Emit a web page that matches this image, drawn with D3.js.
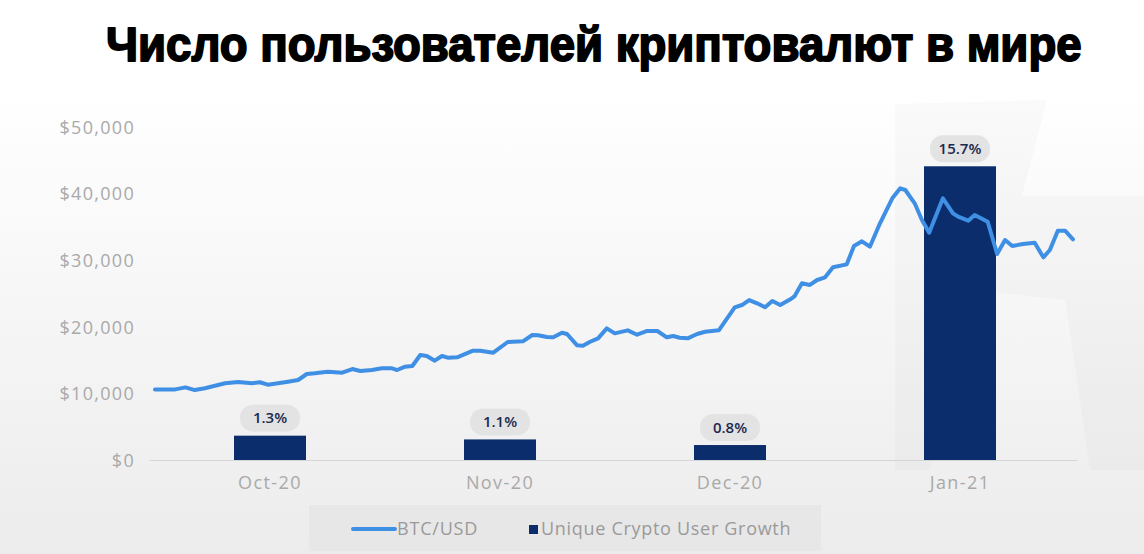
<!DOCTYPE html>
<html>
<head>
<meta charset="utf-8">
<script src="https://cdn.jsdelivr.net/npm/d3@7"></script>
<style>
  html, body { margin: 0; padding: 0; background: #fff; }
  svg { display: block; }
</style>
</head>
<body>
<svg id="chart" width="1144" height="554"></svg>
<script>
const months = ['Oct-20', 'Nov-20', 'Dec-20', 'Jan-21'];
const userGrowth = [1.3, 1.1, 0.8, 15.7];
const priceTicks = [0, 10000, 20000, 30000, 40000, 50000];

// BTC/USD, days since 27 Sep 2020
const btcDay = [
  0, 2.8, 4.2, 5.5, 6.9, 9.7, 11.5, 13.4, 14.5, 15.6, 17.0, 18.4, 19.8, 21.0, 22.1,
  23.9, 25.9, 27.3, 28.4, 30.0, 31.4, 32.8, 33.5, 34.6, 35.6, 36.7, 37.6, 38.7, 39.7,
  40.5, 41.8, 44.0, 45.0, 46.8, 48.8, 50.9, 52.2, 53.0, 54.2, 55.1, 56.3, 57.0, 58.4,
  59.2, 60.2, 61.3, 62.5, 63.6, 65.4, 66.7, 68.1, 69.5, 70.8, 71.7, 72.6, 73.7, 75.0,
  76.1, 78.0, 80.2, 81.2, 82.2, 83.3, 84.4, 85.4, 86.5, 87.9, 88.5, 89.5, 90.6, 91.6,
  92.7, 93.8, 95.7, 96.7, 97.8, 98.9, 100.3, 102.0, 103.1, 103.8, 105.1, 106.1, 107.1,
  109.0, 110.4, 111.1, 112.5, 113.4, 115.2, 116.5, 117.6, 118.6, 120.1, 121.7, 122.9,
  123.8, 124.9, 125.9, 127.0
];
const btcPrice = [
  10600, 10600, 10900, 10500, 10770, 11520, 11710, 11520, 11670, 11310, 11520, 11760, 12010, 12910, 13020,
  13260, 13110, 13660, 13360, 13510, 13770, 13770, 13510, 14010, 14110, 15770, 15620, 14910, 15620,
  15360, 15420, 16410, 16410, 16110, 17720, 17820, 18770, 18720, 18470, 18420, 19110, 18920, 17220,
  17170, 17760, 18270, 19770, 19020, 19470, 18810, 19370, 19370, 18420, 18620, 18360, 18270, 18920,
  19260, 19470, 22930, 23270, 24020, 23530, 22930, 23870, 23270, 24130, 24620, 26530, 26280, 27030,
  27430, 28930, 29380, 32130, 32840, 32030, 35540, 39290, 40800, 40540, 38540, 36040, 34130,
  39290, 37040, 36530, 35930, 36790, 35780, 30930, 33030, 32130, 32430, 32630, 30430,
  31530, 34430, 34430, 33140
];

const W = 1144, H = 554;
const plot = { left: 155, right: 1075, top: 127, bottom: 460 };
const labelFont = '"Open Sans", sans-serif';

const svg = d3.select('#chart');
const defs = svg.append('defs');

const grad = defs.append('linearGradient')
  .attr('id', 'bg').attr('x1', 0).attr('y1', 0).attr('x2', 0).attr('y2', 1);
grad.append('stop').attr('offset', '0%').attr('stop-color', '#ffffff');
grad.append('stop').attr('offset', '100%').attr('stop-color', '#ececec');

svg.append('rect').attr('width', W).attr('height', H).attr('fill', '#fff');
svg.append('rect')
  .attr('x', 0).attr('y', 92).attr('width', W).attr('height', H - 92)
  .attr('fill', 'url(#bg)');

// faint watermark shape behind the right side
svg.append('path')
  .attr('d', 'M895,104 L1047,100 L1022,196 L1144,196 L1144,470 L1090,470 L1065,300 L970,290 L930,470 L895,470 Z')
  .attr('fill', '#000').attr('opacity', 0.018);

// title, squeezed horizontally to the reference width
const title = svg.append('text')
  .attr('font-family', '"Liberation Sans", Arial, sans-serif')
  .attr('font-weight', 'bold').attr('font-size', 47)
  .attr('fill', '#000').attr('stroke', '#000').attr('stroke-width', 1.8)
  .attr('stroke-linejoin', 'round')
  .text('Число пользователей криптовалют в мире');
const titleWidth = title.node().getComputedTextLength();
title.attr('transform', `translate(106,61) scale(${976 / titleWidth},1.02)`);

const y = d3.scaleLinear().domain([0, 50000]).range([plot.bottom, plot.top]);
const yPct = d3.scaleLinear().domain([0, 17.8]).range([plot.bottom, plot.top]);
const xBand = d3.scaleBand().domain(months).range([plot.left, plot.right])
  .paddingInner(0.687).paddingOuter(0.3435);
const xDay = d3.scaleLinear().domain([0, 127]).range([155, 1073]);

// y axis labels
const yAxis = svg.append('g')
  .attr('transform', `translate(${plot.left - 20},0)`)
  .call(d3.axisLeft(y).tickValues(priceTicks).tickSize(0).tickPadding(0)
    .tickFormat((d) => '$' + d3.format(',')(d)));
yAxis.select('.domain').remove();
yAxis.selectAll('text')
  .attr('font-family', labelFont).attr('font-size', 18)
  .attr('letter-spacing', 1.3).attr('fill', '#a9a9a9').attr('dy', '0.35em');

// x axis
const xAxis = svg.append('g')
  .attr('transform', `translate(0,${plot.bottom})`)
  .call(d3.axisBottom(xBand).tickSize(0).tickPadding(16));
xAxis.select('.domain').attr('d', `M${plot.left - 5},0.5H${plot.right + 2}`)
  .attr('stroke', '#d4d4d4').attr('stroke-width', 1.2);
xAxis.selectAll('text')
  .attr('font-family', labelFont).attr('font-size', 18)
  .attr('letter-spacing', 1.4).attr('fill', '#a9a9a9');

// bars
svg.append('g').selectAll('rect')
  .data(userGrowth)
  .join('rect')
  .attr('x', (d, i) => xBand(months[i]))
  .attr('y', (d) => yPct(d))
  .attr('width', xBand.bandwidth())
  .attr('height', (d) => plot.bottom - yPct(d))
  .attr('fill', '#0c2d6b');

// BTC line
const line = d3.line()
  .x((d, i) => xDay(btcDay[i]))
  .y((d) => y(d));

svg.append('path')
  .datum(btcPrice)
  .attr('d', line)
  .attr('fill', 'none')
  .attr('stroke', '#3f8fe4')
  .attr('stroke-width', 4)
  .attr('stroke-linejoin', 'round')
  .attr('stroke-linecap', 'round');

// bar value pills
const labels = svg.append('g').selectAll('g')
  .data(userGrowth)
  .join('g')
  .attr('transform', (d, i) =>
    `translate(${xBand(months[i]) + xBand.bandwidth() / 2},${yPct(d) - 18})`);
labels.append('rect')
  .attr('x', -30).attr('y', -13).attr('width', 60).attr('height', 27).attr('rx', 13)
  .attr('fill', '#e3e3e3');
labels.append('text')
  .attr('text-anchor', 'middle').attr('dy', '0.37em')
  .attr('font-family', labelFont).attr('font-size', 15).attr('font-weight', 600)
  .attr('fill', '#1b2a50')
  .text((d) => d.toFixed(1) + '%');

// legend
const legend = svg.append('g');
legend.append('rect')
  .attr('x', 309).attr('y', 505).attr('width', 512).attr('height', 46)
  .attr('fill', '#e7e7e7');
legend.append('line')
  .attr('x1', 353).attr('x2', 395).attr('y1', 529).attr('y2', 529)
  .attr('stroke', '#3f8fe4').attr('stroke-width', 4).attr('stroke-linecap', 'round');
legend.append('text')
  .attr('x', 397).attr('y', 529).attr('dy', '0.35em')
  .attr('font-family', labelFont).attr('font-size', 18)
  .attr('letter-spacing', 0.8).attr('fill', '#9a9a9a')
  .text('BTC/USD');
legend.append('rect')
  .attr('x', 529).attr('y', 525).attr('width', 9).attr('height', 9)
  .attr('fill', '#0c2d6b');
legend.append('text')
  .attr('x', 541).attr('y', 529).attr('dy', '0.35em')
  .attr('font-family', labelFont).attr('font-size', 18)
  .attr('letter-spacing', 0.7).attr('fill', '#9a9a9a')
  .text('Unique Crypto User Growth');
</script>
</body>
</html>
